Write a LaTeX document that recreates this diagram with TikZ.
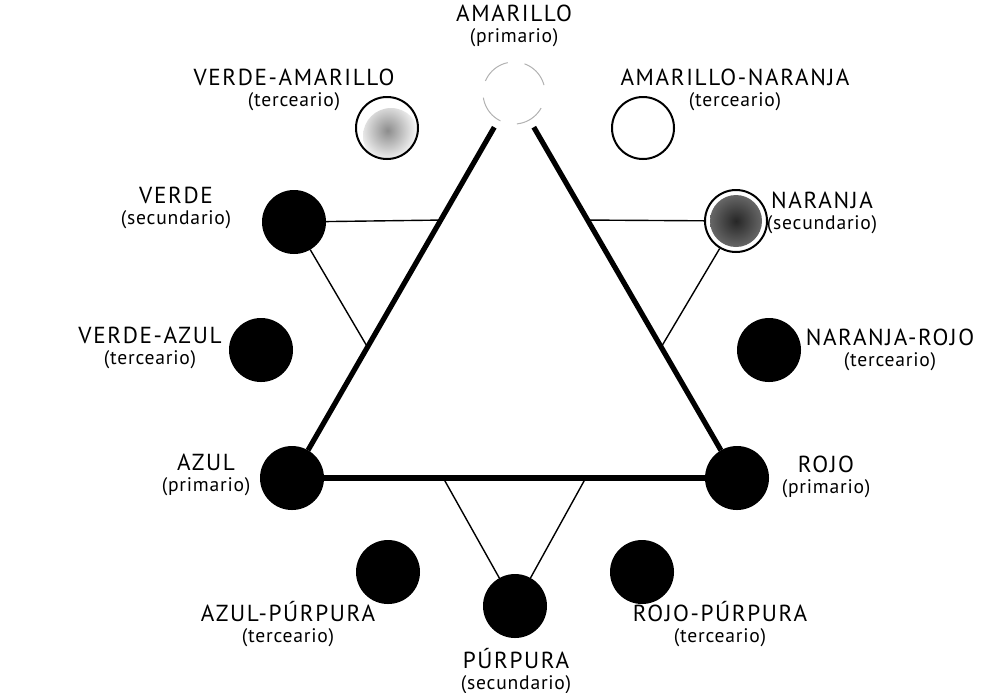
\documentclass[tikz,border=0pt]{standalone}
\usepackage{fontspec}
\setmainfont{PT Sans}[LetterSpace=7]
\usetikzlibrary{calc}

\newcommand{\clase}[1]{{\fontsize{9.8}{11}\selectfont\addfontfeatures{LetterSpace=4}(#1)}}

\begin{document}
\begin{tikzpicture}[
  x=0.5pt, y=-0.5pt,
  swatch/.style={circle, draw, line width=1pt, minimum size=31pt, inner sep=0pt, fill=white},
  dark/.style={swatch, fill=black},
  tag/.style={font=\fontsize{11.6}{10.5}\selectfont, align=center, inner sep=0pt},
  primline/.style={line width=2.6pt},
  mixline/.style={line width=0.7pt}
]
  \useasboundingbox (0,0) rectangle (1005,692);

  % color wheel
  \node[swatch, draw=black!30, line width=0.5pt, dash pattern=on 15pt off 8.5pt, dash phase=-4pt] (am) at (514,93) {};
  \node[swatch, path picture={\shade[inner color=black!45, outer color=white]
        ([xshift=2pt, yshift=-4pt]path picture bounding box.center) circle (14pt);}] (va) at (387,128) {};
  \node[swatch] (an) at (643,128) {};
  \node[dark] (ve) at (294,222) {};
  \node[swatch, path picture={\shade[inner color=black!85, outer color=black!55]
        (path picture bounding box.center) circle (13pt);}] (na) at (736,221) {};
  \node[dark] (vz) at (261,350) {};
  \node[dark] (nr) at (769,350) {};
  \node[dark] (az) at (292,478) {};
  \node[dark] (ro) at (737,478) {};
  \node[dark] (ap) at (388,572) {};
  \node[dark] (pu) at (515,606) {};
  \node[dark] (rp) at (642,572) {};

  % labels
  \node[tag] (t-am) at (514,26) {AMARILLO\\\clase{primario}};
  \node[tag] (t-va) at (294,90) {VERDE-AMARILLO\\\clase{terceario}};
  \node[tag] (t-an) at (735,90) {AMARILLO-NARANJA\\\clase{terceario}};
  \node[tag] (t-ve) at (176,208) {VERDE\\\clase{secundario}};
  \node[tag] (t-na) at (822,213) {NARANJA\\\clase{secundario}};
  \node[tag] (t-vz) at (150,348) {VERDE-AZUL\\\clase{terceario}};
  \node[tag] (t-nr) at (890,350) {NARANJA-ROJO\\\clase{terceario}};
  \node[tag] (t-az) at (206,475) {AZUL\\\clase{primario}};
  \node[tag] (t-ro) at (826,477) {ROJO\\\clase{primario}};
  \node[tag] (t-ap) at (288,624) {AZUL-PÚRPURA\\\clase{terceario}};
  \node[tag] (t-pu) at (516,671) {PÚRPURA\\\clase{secundario}};
  \node[tag] (t-rp) at (720,624) {ROJO-PÚRPURA\\\clase{terceario}};

  % triangle of primaries
  \draw[primline, shorten <=4pt] (am) -- (az);
  \draw[primline, shorten <=4pt] (am) -- (ro);
  \draw[primline] (az) -- (ro);

  % secondaries to the sides
  \coordinate (l1) at ($(am)!0.33!(az)$);
  \coordinate (l2) at ($(am)!0.66!(az)$);
  \coordinate (r1) at ($(am)!0.33!(ro)$);
  \coordinate (r2) at ($(am)!0.66!(ro)$);
  \coordinate (b1) at ($(az)!0.34!(ro)$);
  \coordinate (b2) at ($(az)!0.66!(ro)$);

  \draw[mixline] (l1) -- (ve);
  \draw[mixline] (l2) -- (ve);
  \draw[mixline] (r1) -- (na);
  \draw[mixline] (r2) -- (na);
  \draw[mixline] (b1) -- (pu);
  \draw[mixline] (b2) -- (pu);
\end{tikzpicture}
\end{document}
